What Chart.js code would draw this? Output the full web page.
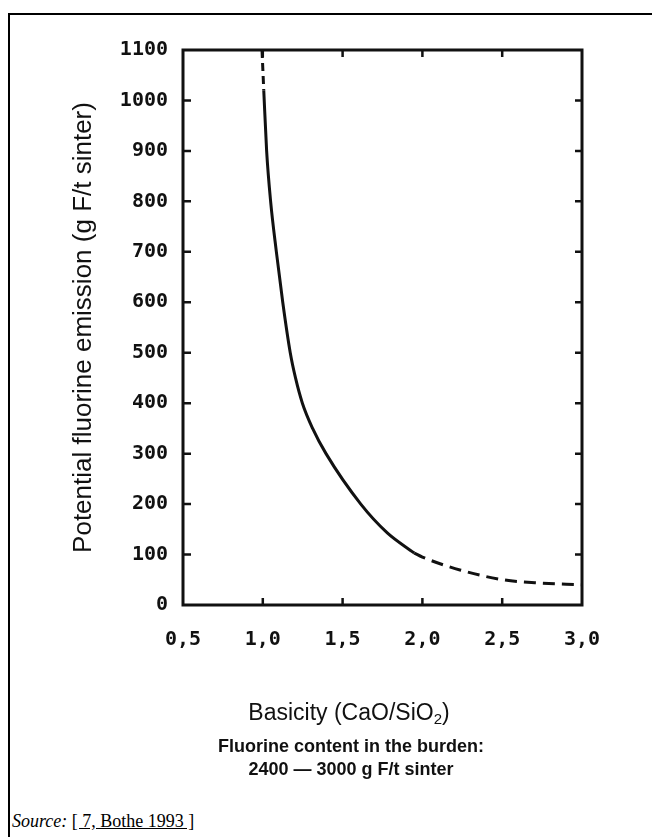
<!DOCTYPE html>
<html>
<head>
    <meta charset="utf-8">
    <title>Potential fluorine emission vs basicity</title>
    <script src="https://cdn.jsdelivr.net/npm/chart.js"></script>
    <style>
    html, body {
        margin: 0;
        padding: 0;
        background: #fff;
    }
    body {
        width: 652px;
        height: 837px;
        overflow: hidden;
        position: relative;
    }
    .frame {
        position: absolute;
        left: 8px;
        top: 13px;
        width: 700px;
        height: 900px;
        border: 2px solid #000;
    }
    .plot {
        position: absolute;
        left: 0;
        top: 0;
        width: 652px;
        height: 720px;
    }
    .xtitle {
        position: absolute;
        left: 199px;
        top: 698px;
        width: 300px;
        text-align: center;
        font: 23px "Liberation Sans", Arial, sans-serif;
        line-height: 28px;
        color: #111;
    }
    .xtitle sub {
        font-size: 15px;
        line-height: 0;
        vertical-align: -4px;
    }
    .caption {
        position: absolute;
        left: 151px;
        top: 735px;
        width: 400px;
        text-align: center;
        font: bold 18px "Liberation Sans", Arial, sans-serif;
        line-height: 23px;
        color: #111;
    }
    .source {
        position: absolute;
        left: 12px;
        top: 811px;
        font: 18px "Liberation Serif", "Times New Roman", serif;
        line-height: 20px;
        color: #000;
    }
    .source .ref {
        text-decoration: underline;
    }
    </style>
</head>
<body>
    <div class="frame"></div>
    <div class="plot">
        <canvas id="emissionChart"></canvas>
    </div>
    <div class="xtitle">Basicity (CaO/SiO<sub>2</sub>)</div>
    <div class="caption">Fluorine content in the burden:<br>2400 — 3000 g F/t sinter</div>
    <div class="source"><em>Source:</em> <span class="ref">[ 7, Bothe 1993 ]</span></div>

<script>
    // curve: solid part, dashed extrapolations above and below
    const basicitySolid = [1.006, 1.024, 1.049, 1.085, 1.125, 1.172, 1.205, 1.248, 1.312, 1.396, 1.614, 1.780, 1.949];
    const emissionSolid = [1020, 900, 800, 700, 600, 500, 450, 400, 350, 300, 200, 143, 103];

    const basicityDashHigh = [0.995, 1.006];
    const emissionDashHigh = [1100, 1020];

    const basicityDashLow = [1.949, 2.0, 2.241, 2.506, 2.705, 3.0];
    const emissionDashLow = [103, 95, 69, 50, 44, 40];

    const xTickValues = [0.5, 1.0, 1.5, 2.0, 2.5, 3.0];
    const xTickLabels = ['0,5', '1,0', '1,5', '2,0', '2,5', '3,0'];
    const yTickValues = [0, 100, 200, 300, 400, 500, 600, 700, 800, 900, 1000, 1100];

    const toPoints = (xs, ys) => xs.map((x, i) => ({ x: x, y: ys[i] }));

    const tickFont = { family: 'DejaVu Sans Mono', weight: 'bold', size: 20 };
    const ink = '#111';

    // box round the plot with short ticks pointing inwards on all four sides
    const frameTicks = {
        id: 'frameTicks',
        afterDatasetsDraw(chart) {
            const { ctx, chartArea: a, scales: { x, y } } = chart;
            ctx.save();
            ctx.strokeStyle = ink;
            ctx.lineWidth = 3;
            ctx.strokeRect(a.left, a.top, a.right - a.left, a.bottom - a.top);
            ctx.lineWidth = 2.5;
            ctx.beginPath();
            x.ticks.forEach(t => {
                const px = x.getPixelForValue(t.value);
                if (px <= a.left + 2 || px >= a.right - 2) return;
                ctx.moveTo(px, a.bottom);
                ctx.lineTo(px, a.bottom - 7);
                ctx.moveTo(px, a.top);
                ctx.lineTo(px, a.top + 7);
            });
            y.ticks.forEach(t => {
                const py = y.getPixelForValue(t.value);
                if (py <= a.top + 2 || py >= a.bottom - 2) return;
                ctx.moveTo(a.left, py);
                ctx.lineTo(a.left + 8, py);
                ctx.moveTo(a.right, py);
                ctx.lineTo(a.right - 7, py);
            });
            ctx.stroke();
            ctx.restore();
        }
    };

    const lineStyle = {
        borderColor: ink,
        borderWidth: 3,
        pointRadius: 0,
        fill: false,
        cubicInterpolationMode: 'monotone'
    };

    new Chart(document.getElementById('emissionChart'), {
        type: 'line',
        data: {
            datasets: [
                Object.assign({ label: 'measured', data: toPoints(basicitySolid, emissionSolid) }, lineStyle),
                Object.assign({ label: 'extrapolated high', data: toPoints(basicityDashHigh, emissionDashHigh), borderDash: [8, 5] }, lineStyle),
                Object.assign({ label: 'extrapolated low', data: toPoints(basicityDashLow, emissionDashLow), borderDash: [12, 7] }, lineStyle)
            ]
        },
        options: {
            responsive: true,
            maintainAspectRatio: false,
            animation: false,
            layout: { padding: { top: 50, right: 70, left: 0, bottom: 0 } },
            plugins: {
                legend: { display: false },
                tooltip: { enabled: false }
            },
            scales: {
                x: {
                    type: 'linear',
                    min: 0.5,
                    max: 3.0,
                    afterBuildTicks: s => { s.ticks = xTickValues.map(v => ({ value: v })); },
                    afterFit: s => { s.height = 115; },
                    grid: { display: false, drawTicks: false },
                    border: { display: false },
                    ticks: {
                        font: tickFont,
                        color: ink,
                        padding: 23,
                        callback: (v, i) => xTickLabels[i]
                    }
                },
                y: {
                    min: 0,
                    max: 1100,
                    afterBuildTicks: s => { s.ticks = yTickValues.map(v => ({ value: v })); },
                    afterFit: s => { s.width = 183; },
                    grid: { display: false, drawTicks: false },
                    border: { display: false },
                    ticks: {
                        font: tickFont,
                        color: ink,
                        padding: 15,
                        callback: v => String(v)
                    },
                    title: {
                        display: true,
                        text: 'Potential fluorine emission (g F/t sinter)',
                        font: { family: 'Liberation Sans', size: 26 },
                        color: ink,
                        padding: { top: 68, bottom: 0 }
                    }
                }
            }
        },
        plugins: [frameTicks]
    });
</script>
</body>
</html>
